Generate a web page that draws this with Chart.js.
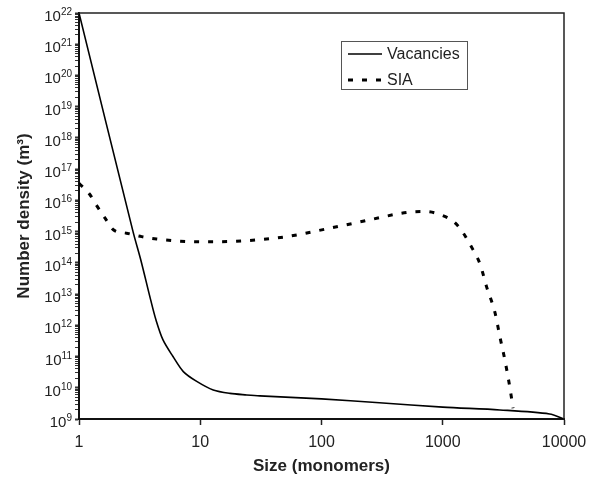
<!DOCTYPE html>
<html>
<head>
<meta charset="utf-8">
<script src="https://cdn.jsdelivr.net/npm/chart.js@4"></script>
<style>
  body { margin: 0; background: #fff; }
  canvas { display: block; }
</style>
</head>
<body>
<canvas id="grafico" width="600" height="477"></canvas>
<script>
// valores (tamanho em monomeros, densidade em m^-3)
const tamanhosVac = [1, 2.79, 3.23, 3.9, 4.31, 4.93, 5.96, 7.25, 9.35, 12.8, 17.6, 24.2, 31, 100, 300, 1000, 2960, 7600, 10000];
const densVac = [1e22, 1e15, 1.26e14, 6.5e12, 1.5e12, 3.4e11, 1e11, 3.3e10, 1.6e10, 8.5e9, 6.6e9, 5.9e9, 5.5e9, 4.4e9, 3.3e9, 2.4e9, 1.95e9, 1.45e9, 1e9];

const tamanhosSia = [1, 1.22, 1.4, 1.64, 1.92, 2.47, 3.29, 4.37, 10, 22, 50, 111, 251, 427, 569, 700, 950, 1310, 1780, 2040, 2300, 2700, 2960, 3250, 3580, 3800];
const densSia = [3.5e16, 1.6e16, 6.8e15, 2.7e15, 1.15e15, 8.9e14, 6.9e14, 5.8e14, 4.7e14, 5e14, 6.8e14, 1.23e15, 2.4e15, 3.7e15, 4.3e15, 4.4e15, 3.5e15, 1.66e15, 2.6e14, 8.7e13, 1.7e13, 2.5e12, 4.3e11, 7.9e10, 1e10, 2.2e9];

const ticksX = [1, 10, 100, 1000, 10000];
const expoentesY = [9, 10, 11, 12, 13, 14, 15, 16, 17, 18, 19, 20, 21, 22];
const nomesSeries = ['Vacancies', 'SIA'];

const fonte = '"Liberation Sans", Arial, sans-serif';

function pontos(xs, ys) {
    return xs.map((x, i) => ({ x: x, y: ys[i] }));
}

// rotulos 10^n com expoente, moldura e legenda
const extras = {
    id: 'extras',
    afterDraw(chart) {
        const ctx = chart.ctx;
        const area = chart.chartArea;
        const escY = chart.scales.y;
        ctx.save();

        // moldura superior e direita
        ctx.strokeStyle = '#222';
        ctx.lineWidth = 1.5;
        ctx.beginPath();
        ctx.moveTo(area.left, area.top);
        ctx.lineTo(area.right, area.top);
        ctx.lineTo(area.right, area.bottom);
        ctx.stroke();

        // rotulos do eixo y
        ctx.fillStyle = '#222';
        ctx.textBaseline = 'alphabetic';
        expoentesY.forEach(p => {
            const py = escY.getPixelForValue(Math.pow(10, p));
            const exp = String(p);
            ctx.font = '10px ' + fonte;
            const wExp = ctx.measureText(exp).width;
            const xFim = 72;
            ctx.textAlign = 'left';
            ctx.fillText(exp, xFim - wExp, py + 2);
            ctx.font = '15px ' + fonte;
            ctx.textAlign = 'right';
            ctx.fillText('10', xFim - wExp, py + 8);
        });

        // legenda
        const lx = 341, ly = 41, lw = 126, lh = 48;
        ctx.fillStyle = '#fff';
        ctx.fillRect(lx, ly, lw, lh);
        ctx.strokeStyle = '#555';
        ctx.lineWidth = 1;
        ctx.strokeRect(lx + 0.5, ly + 0.5, lw, lh);
        chart.data.datasets.forEach((ds, i) => {
            const yy = ly + 13 + i * 26;
            ctx.strokeStyle = ds.borderColor;
            ctx.lineWidth = ds.borderWidth;
            ctx.setLineDash(ds.borderDash || []);
            ctx.beginPath();
            ctx.moveTo(348, yy);
            ctx.lineTo(382, yy);
            ctx.stroke();
            ctx.setLineDash([]);
            ctx.fillStyle = '#222';
            ctx.font = '16px ' + fonte;
            ctx.textAlign = 'left';
            ctx.textBaseline = 'middle';
            ctx.fillText(ds.label, 387, yy + 1);
        });
        ctx.restore();
    }
};

new Chart(document.getElementById('grafico').getContext('2d'), {
    type: 'line',
    data: {
        datasets: [{
            label: nomesSeries[0],
            data: pontos(tamanhosVac, densVac),
            borderColor: '#000',
            borderWidth: 1.6,
            pointRadius: 0,
            tension: 0.3,
            fill: false
        }, {
            label: nomesSeries[1],
            data: pontos(tamanhosSia, densSia),
            borderColor: '#000',
            borderWidth: 3,
            borderDash: [5, 9],
            pointRadius: 0,
            cubicInterpolationMode: 'monotone',
            fill: false
        }]
    },
    options: {
        responsive: false,
        animation: false,
        layout: { padding: { top: 13, right: 36, left: 0, bottom: 0 } },
        plugins: { legend: { display: false }, tooltip: { enabled: false } },
        scales: {
            x: {
                type: 'logarithmic',
                min: 1,
                max: 10000,
                afterBuildTicks: s => { s.ticks = ticksX.map(v => ({ value: v, major: true })); },
                afterFit: s => { s.height = 58; },
                grid: { drawOnChartArea: false, tickLength: 6, tickColor: '#222', tickWidth: 1.5 },
                border: { color: '#111', width: 2 },
                ticks: {
                    color: '#222',
                    font: { family: fonte, size: 16 },
                    padding: 8,
                    maxRotation: 0,
                    callback: v => String(v)
                },
                title: {
                    display: true,
                    text: 'Size (monomers)',
                    color: '#222',
                    font: { family: fonte, size: 17, weight: 'bold' },
                    padding: { top: 0, bottom: 0 }
                }
            },
            y: {
                type: 'logarithmic',
                min: 1e9,
                max: 1e22,
                afterBuildTicks: s => {
                    const t = [];
                    for (let p = expoentesY[0]; p <= expoentesY[expoentesY.length - 1]; p++) {
                        for (let m = 1; m <= 9; m++) {
                            if (p === expoentesY[expoentesY.length - 1] && m > 1) break;
                            t.push({ value: m * Math.pow(10, p), major: m === 1 });
                        }
                    }
                    s.ticks = t;
                },
                afterFit: s => { s.width = 79; },
                grid: {
                    drawOnChartArea: false,
                    tickLength: 4,
                    tickColor: '#333',
                    tickWidth: c => (c.tick && c.tick.major ? 2 : 1)
                },
                border: { color: '#111', width: 2 },
                ticks: { display: false },
                title: {
                    display: true,
                    text: 'Number density (m³)',
                    color: '#222',
                    font: { family: fonte, size: 17, weight: 'bold' },
                    padding: { top: 14, bottom: 0 }
                }
            }
        }
    },
    plugins: [extras]
});
</script>
</body>
</html>
